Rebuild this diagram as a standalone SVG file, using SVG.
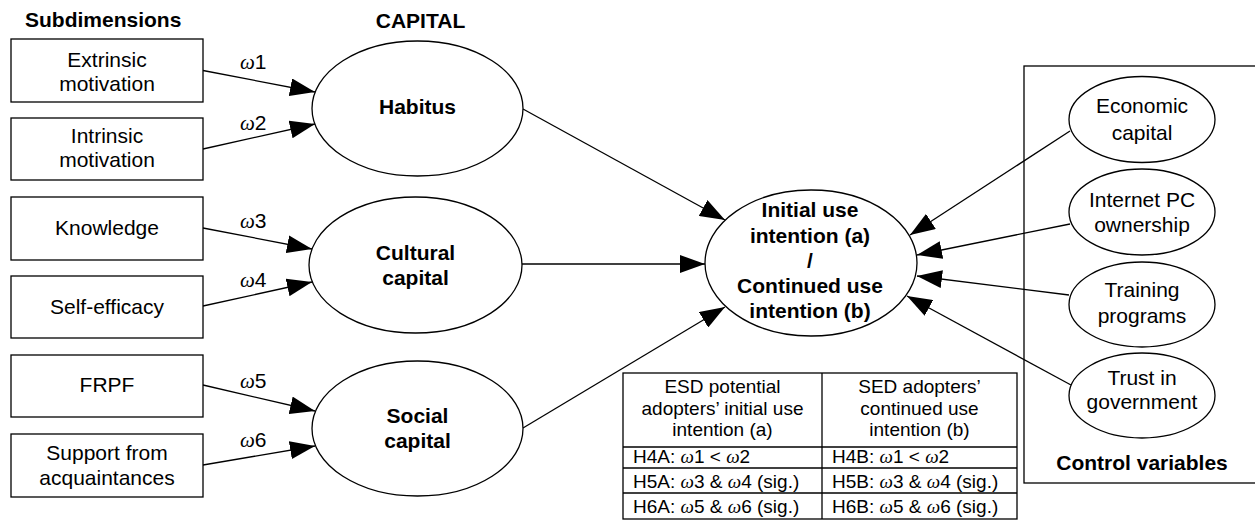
<svg xmlns="http://www.w3.org/2000/svg" width="1255" height="521" viewBox="0 0 1255 521">
<style>
text{font-family:"Liberation Sans",Arial,sans-serif;fill:#000}
.lbl{font-size:21px;text-anchor:middle}
.b{font-size:21px;font-weight:bold;text-anchor:middle}
.tb{font-size:19px}
.tbc{font-size:19px;text-anchor:middle}
.w{font-family:"Liberation Serif","Times New Roman",serif;font-style:italic}
.om{font-size:21px}
.shape{fill:#fff;stroke:#000;stroke-width:1.3}
.conn{stroke:#000;stroke-width:1.3;fill:none;marker-end:url(#ah)}
.plain{stroke:#000;stroke-width:1.3;fill:none}
</style>
<defs>
<marker id="ah" markerUnits="userSpaceOnUse" markerWidth="25" markerHeight="18" refX="25" refY="9" orient="auto">
<path d="M0,0 L25,9 L0,18 Z" fill="#000"/>
</marker>
</defs>
<rect width="1255" height="521" fill="#fff"/>
<text x="25" y="27" style="font-size:21px;font-weight:bold">Subdimensions</text>
<text x="420.5" y="28" class="b">CAPITAL</text>

<g id="control-box">
<rect x="1024" y="66" width="240" height="417" class="plain"/>
<text x="1142" y="470" class="b">Control variables</text>
</g>

<g id="connectors">
<line x1="203" y1="70.5" x2="315" y2="92" class="conn"/>
<line x1="203" y1="149" x2="315" y2="124" class="conn"/>
<line x1="203" y1="228" x2="312" y2="249" class="conn"/>
<line x1="203" y1="306" x2="312" y2="282" class="conn"/>
<line x1="203" y1="385" x2="315" y2="411" class="conn"/>
<line x1="203" y1="465" x2="315" y2="446" class="conn"/>
<line x1="523" y1="109" x2="725" y2="220" class="conn"/>
<line x1="522" y1="264" x2="705" y2="264" class="conn"/>
<line x1="523" y1="428" x2="725" y2="307" class="conn"/>
<line x1="1070" y1="131" x2="910" y2="235" class="conn"/>
<line x1="1070" y1="224" x2="917" y2="255" class="conn"/>
<line x1="1069" y1="295" x2="917" y2="276" class="conn"/>
<line x1="1071" y1="385" x2="907" y2="296" class="conn"/>
</g>

<g id="weights">
<text x="240" y="69" class="om"><tspan class="w">ω</tspan>1</text>
<text x="240" y="130" class="om"><tspan class="w">ω</tspan>2</text>
<text x="240" y="228" class="om"><tspan class="w">ω</tspan>3</text>
<text x="240" y="287" class="om"><tspan class="w">ω</tspan>4</text>
<text x="240" y="388" class="om"><tspan class="w">ω</tspan>5</text>
<text x="240" y="447" class="om"><tspan class="w">ω</tspan>6</text>
</g>

<g id="extrinsic">
<rect x="11" y="39" width="192" height="63" class="shape"/>
<text x="107" y="67" class="lbl">Extrinsic</text>
<text x="107" y="91" class="lbl">motivation</text>
</g>
<g id="intrinsic">
<rect x="11" y="118" width="192" height="62" class="shape"/>
<text x="107" y="143" class="lbl">Intrinsic</text>
<text x="107" y="167" class="lbl">motivation</text>
</g>
<g id="knowledge">
<rect x="11" y="197" width="192" height="63" class="shape"/>
<text x="107" y="235" class="lbl">Knowledge</text>
</g>
<g id="self-efficacy">
<rect x="11" y="276" width="192" height="62" class="shape"/>
<text x="107" y="314" class="lbl">Self-efficacy</text>
</g>
<g id="frpf">
<rect x="11" y="355" width="192" height="62" class="shape"/>
<text x="107" y="392" class="lbl">FRPF</text>
</g>
<g id="support">
<rect x="11" y="434" width="192" height="63" class="shape"/>
<text x="107" y="460" class="lbl">Support from</text>
<text x="107" y="485" class="lbl">acquaintances</text>
</g>

<g id="habitus">
<ellipse cx="417.5" cy="108.5" rx="105.5" ry="67.5" class="shape"/>
<text x="417.5" y="114" class="b">Habitus</text>
</g>
<g id="cultural">
<ellipse cx="415.5" cy="265" rx="106.5" ry="68" class="shape"/>
<text x="415.5" y="260" class="b">Cultural</text>
<text x="415.5" y="285" class="b">capital</text>
</g>
<g id="social">
<ellipse cx="417.5" cy="428.5" rx="105.5" ry="67.5" class="shape"/>
<text x="417.5" y="423" class="b">Social</text>
<text x="417.5" y="448" class="b">capital</text>
</g>

<g id="intention">
<ellipse cx="811" cy="263" rx="106" ry="73" class="shape"/>
<text x="810" y="217" class="b">Initial use</text>
<text x="810" y="243" class="b">intention (a)</text>
<text x="810" y="268" class="b">/</text>
<text x="810" y="293" class="b">Continued use</text>
<text x="810" y="318" class="b">intention (b)</text>
</g>

<g id="economic">
<ellipse cx="1142" cy="119.5" rx="73" ry="43" class="shape"/>
<text x="1142" y="113" class="lbl">Economic</text>
<text x="1142" y="140" class="lbl">capital</text>
</g>
<g id="internet">
<ellipse cx="1142" cy="212" rx="73" ry="43" class="shape"/>
<text x="1142" y="207" class="lbl">Internet PC</text>
<text x="1142" y="232" class="lbl">ownership</text>
</g>
<g id="training">
<ellipse cx="1142" cy="304.5" rx="73" ry="42.5" class="shape"/>
<text x="1142" y="297" class="lbl">Training</text>
<text x="1142" y="323" class="lbl">programs</text>
</g>
<g id="trust">
<ellipse cx="1142" cy="395.5" rx="73" ry="42.5" class="shape"/>
<text x="1142" y="385" class="lbl">Trust in</text>
<text x="1142" y="409" class="lbl">government</text>
</g>

<g id="hypotheses-table">
<rect x="623" y="373" width="394" height="146" class="shape"/>
<line x1="822" y1="373" x2="822" y2="519" class="plain"/>
<line x1="623" y1="447" x2="1017" y2="447" class="plain"/>
<line x1="623" y1="468" x2="1017" y2="468" class="plain"/>
<line x1="623" y1="493" x2="1017" y2="493" class="plain"/>
<text x="722.5" y="393" class="tbc">ESD potential</text>
<text x="722.5" y="414.5" class="tbc">adopters’ initial use</text>
<text x="722.5" y="436" class="tbc">intention (a)</text>
<text x="919.5" y="393" class="tbc">SED adopters’</text>
<text x="919.5" y="414.5" class="tbc">continued use</text>
<text x="919.5" y="436" class="tbc">intention (b)</text>
<text x="633" y="463" class="tb">H4A: <tspan class="w">ω</tspan>1 &lt; <tspan class="w">ω</tspan>2</text>
<text x="633" y="488" class="tb">H5A: <tspan class="w">ω</tspan>3 &amp; <tspan class="w">ω</tspan>4 (sig.)</text>
<text x="633" y="513" class="tb">H6A: <tspan class="w">ω</tspan>5 &amp; <tspan class="w">ω</tspan>6 (sig.)</text>
<text x="832" y="463" class="tb">H4B: <tspan class="w">ω</tspan>1 &lt; <tspan class="w">ω</tspan>2</text>
<text x="832" y="488" class="tb">H5B: <tspan class="w">ω</tspan>3 &amp; <tspan class="w">ω</tspan>4 (sig.)</text>
<text x="832" y="513" class="tb">H6B: <tspan class="w">ω</tspan>5 &amp; <tspan class="w">ω</tspan>6 (sig.)</text>
</g>
</svg>
